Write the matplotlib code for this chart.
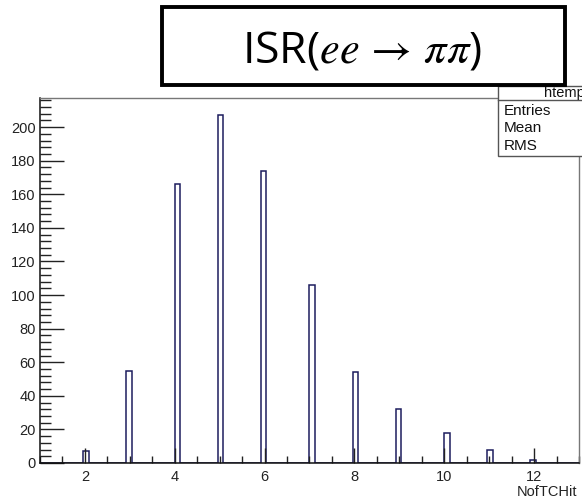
import numpy as np
import matplotlib
matplotlib.use("Agg")
import matplotlib.pyplot as plt
from matplotlib.patches import Rectangle
from matplotlib.ticker import MultipleLocator

# Number of TC hits per event and how many events had that many
n_hits = [2, 3, 4, 5, 6, 7, 8, 9, 10, 11, 12]
entries = [7, 55, 166, 207, 174, 106, 54, 32, 18, 8, 2]

x_lo, x_hi, n_bins = 1.0, 13.0, 100
x_ticks = [2, 4, 6, 8, 10, 12]
y_ticks = [0, 20, 40, 60, 80, 100, 120, 140, 160, 180, 200]

# Fill a fixed-binning histogram from the per-value counts
edges = np.linspace(x_lo, x_hi, n_bins + 1)
counts = np.zeros(n_bins)
for v, c in zip(n_hits, entries):
    idx = np.searchsorted(edges, v, side="right") - 1
    counts[idx] += c

W, H = 582, 499
fig = plt.figure(figsize=(W / 100, H / 100), dpi=100)
fig.patch.set_facecolor("white")


def fx(px):
    return px / W


def fy(py):
    return 1 - py / H


ax_l, ax_r, ax_t, ax_b = 40, 579, 98, 463
ax = fig.add_axes([fx(ax_l), fy(ax_b), fx(ax_r) - fx(ax_l), fy(ax_t) - fy(ax_b)])

ax.stairs(counts, edges, color="#1c1c5e", linewidth=1.1, baseline=0)

ax.set_xlim(x_lo, x_hi)
ax.set_ylim(0, max(entries) * 1.05)
ax.set_xticks(x_ticks)
ax.set_yticks(y_ticks)
ax.xaxis.set_minor_locator(MultipleLocator(0.5))
ax.yaxis.set_minor_locator(MultipleLocator(4))

label_font = dict(family="Liberation Sans", size=10.5)
ax.tick_params(axis="both", which="both", direction="in", colors="#222222",
               labelcolor="#222222", width=1.0)
ax.tick_params(axis="x", which="major", length=11, pad=5, labelsize=10.5)
ax.tick_params(axis="x", which="minor", length=5)
ax.tick_params(axis="y", which="major", length=17, pad=3, labelsize=10.5)
ax.tick_params(axis="y", which="minor", length=8)
ax.tick_params(top=False, right=False, which="both")
for lab in ax.get_xticklabels() + ax.get_yticklabels():
    lab.set_fontfamily("Liberation Sans")

for side in ("left", "bottom"):
    ax.spines[side].set_color("#111111")
    ax.spines[side].set_linewidth(1.1)
for side in ("top", "right"):
    ax.spines[side].set_color("#777777")
    ax.spines[side].set_linewidth(1.0)

fig.text(fx(577), fy(492), "NofTCHit", ha="right", va="center",
         color="#222222", **label_font)

# Statistics box (extends past the right edge of the canvas)
sb_l, sb_t, sb_hdr, sb_b, sb_r = 498, 86, 100, 156, 640
fig.patches.append(Rectangle((fx(sb_l), fy(sb_b)), fx(sb_r) - fx(sb_l),
                             fy(sb_t) - fy(sb_b), transform=fig.transFigure,
                             facecolor="white", edgecolor="#555555",
                             linewidth=1.0, zorder=5))
fig.add_artist(plt.Line2D([fx(sb_l), fx(sb_r)], [fy(sb_hdr), fy(sb_hdr)],
                          transform=fig.transFigure, color="#555555",
                          linewidth=1.0, zorder=6))
fig.text(fx(544), fy(93), "htemp", ha="left", va="center", color="#111111",
         family="Liberation Sans", size=10.5, zorder=7)
for row, name in zip([111, 128, 146], ["Entries", "Mean", "RMS"]):
    fig.text(fx(504), fy(row), name, ha="left", va="center",
             color="#111111", family="Liberation Sans", size=11, zorder=7)

# Title box
tb_l, tb_t, tb_r, tb_b = 162, 7, 565, 85
fig.patches.append(Rectangle((fx(tb_l), fy(tb_b)), fx(tb_r) - fx(tb_l),
                             fy(tb_t) - fy(tb_b), transform=fig.transFigure,
                             facecolor="white", edgecolor="black",
                             linewidth=2.8, zorder=8))
plt.rcParams["mathtext.fontset"] = "stix"
fig.text(fx(362), fy(62), r"ISR($ee\,\rightarrow\,\pi\pi$)", ha="center",
         va="baseline", color="black", family="Open Sans", size=32, zorder=9)

fig.savefig("out.png", dpi=100, facecolor="white")
